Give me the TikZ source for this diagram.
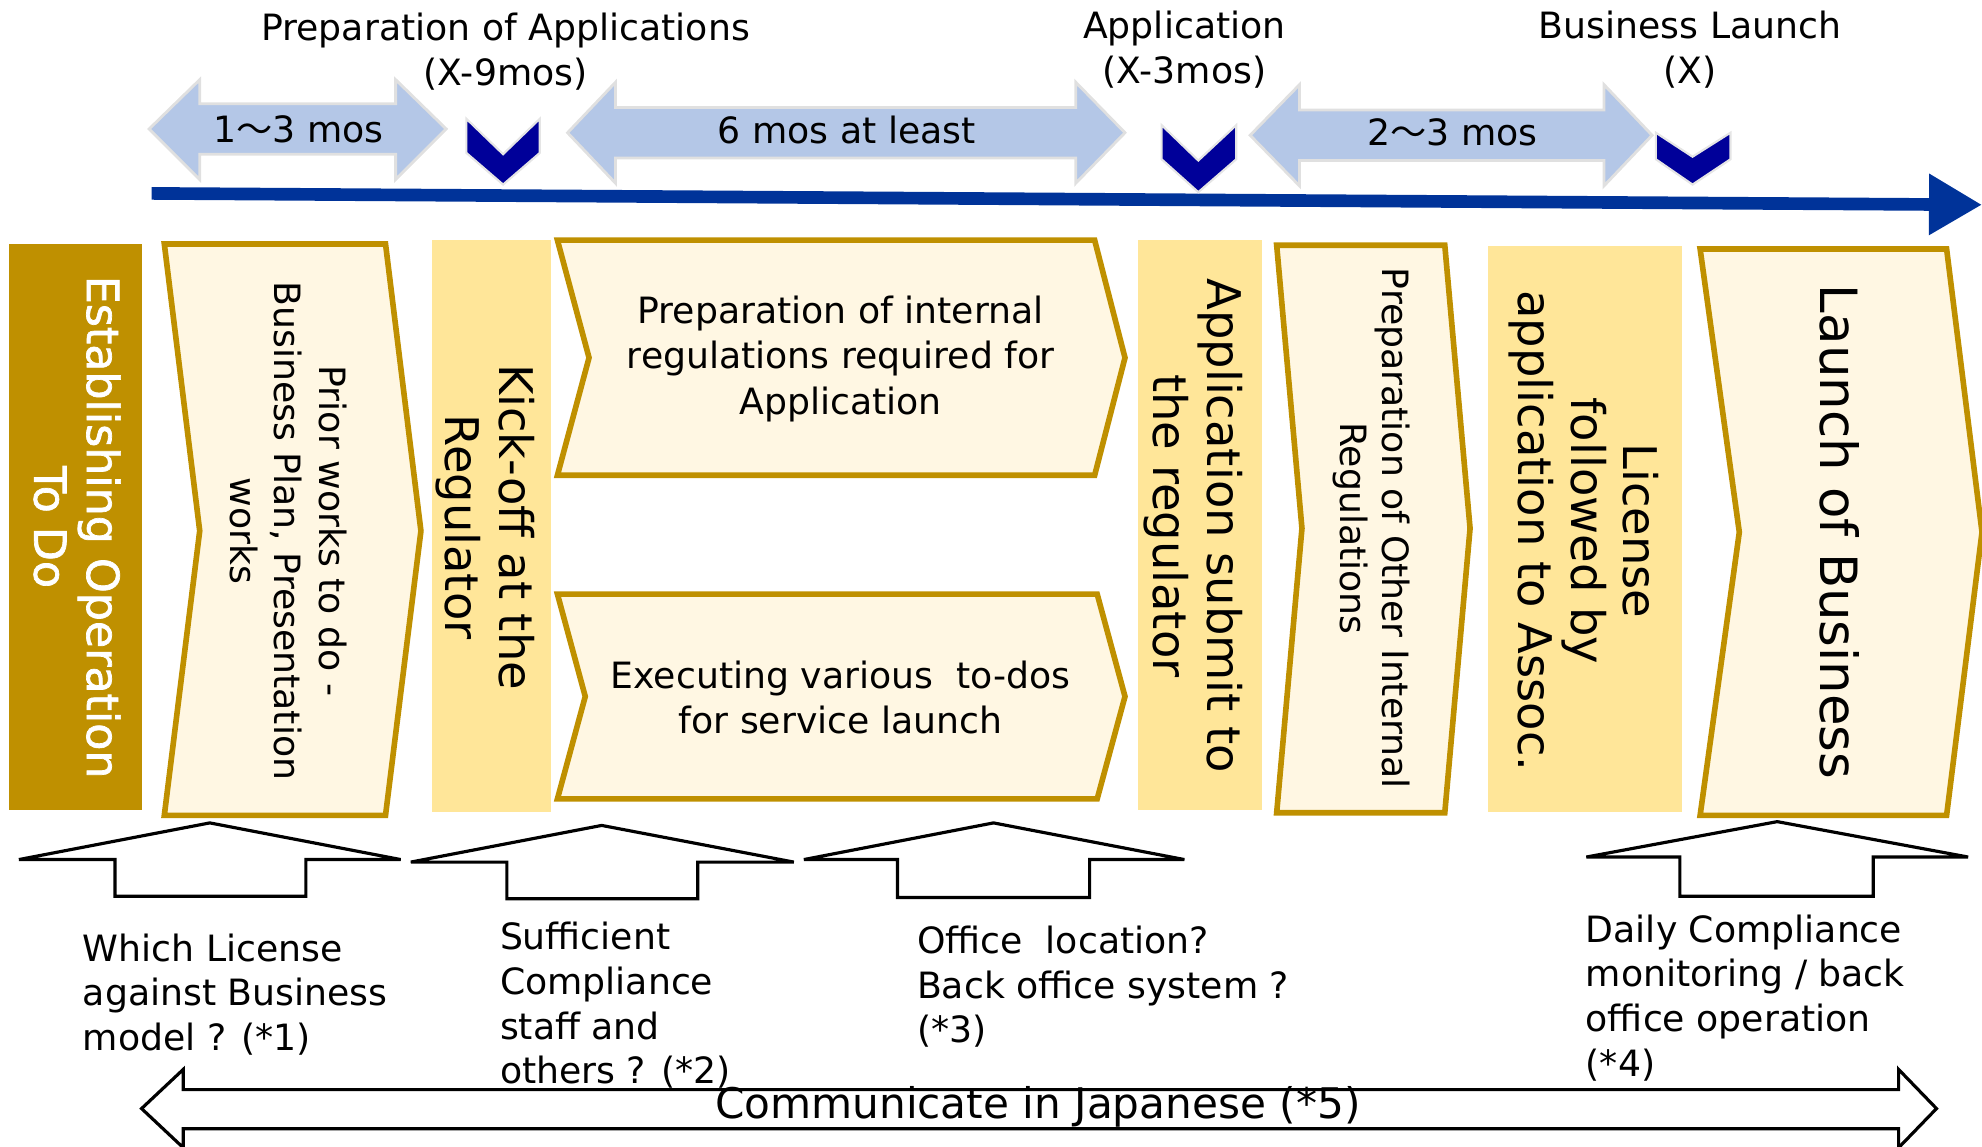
\documentclass[tikz,border=0pt]{standalone}
\usepackage{fontspec}
\setmainfont{DejaVu Sans}
\newfontfamily\cjk{Noto Sans CJK JP}
\newfontfamily\heavysans[FakeBold=1.6]{DejaVu Sans}
\usetikzlibrary{arrows.meta}
\definecolor{goldline}{RGB}{191,144,0}
\definecolor{cream}{RGB}{255,247,227}
\definecolor{paleyellow}{RGB}{255,230,153}
\definecolor{periodblue}{RGB}{180,199,231}
\definecolor{darknavy}{RGB}{0,0,153}
\definecolor{timeblue}{RGB}{0,51,153}
\tikzset{
  chevron/.style={draw=goldline,line width=1.6pt,fill=cream},
  bar/.style={fill=paleyellow},
  period/.style={fill=periodblue,draw=black!12,line width=0.8pt},
  milestone/.style={fill=darknavy,draw=black!10,line width=0.6pt},
  hollow/.style={draw=black,fill=white,line width=0.9pt},
  smalltxt/.style={font=\fontsize{10.3}{12.7}\selectfont,inner sep=0pt},
  bigtxt/.style={font=\fontsize{13.2}{15.4}\selectfont,inner sep=0pt},
  down/.style={rotate=-90,align=center}
}
\begin{document}
\begin{tikzpicture}
        [x=0.01264cm,y=-0.01264cm]
        \useasboundingbox (0,0) rectangle (1568,907);

        \node[smalltxt,align=center] (prep) at (400,41) {Preparation of Applications\\(X-9mos)};
        \node[smalltxt,align=center] (appl) at (937,39) {Application\\(X-3mos)};
        \node[smalltxt,align=center] (launch) at (1337,39) {Business Launch\\(X)};

        \draw[period] (118,102) -- (158,63) -- (158,82) -- (313,82) -- (313,63) -- (353,102) -- (313,142) -- (313,122) -- (158,122) -- (158,142) -- cycle;
        \draw[period] (449,105) -- (487,65) -- (487,85) -- (851,85) -- (851,65) -- (890,105) -- (851,145) -- (851,125) -- (487,125) -- (487,145) -- cycle;
        \draw[period] (989,107) -- (1028,67) -- (1028,87) -- (1269,87) -- (1269,67) -- (1307,107) -- (1269,147) -- (1269,127) -- (1028,127) -- (1028,147) -- cycle;
        \node[smalltxt] (p1) at (236,102) {1{\cjk ～}3 mos};
        \node[smalltxt] (p2) at (670,103) {6 mos at least};
        \node[smalltxt] (p3) at (1149,105) {2{\cjk ～}3 mos};

        \coordinate (t0) at (120,153);
        \coordinate (t1) at (1568,162);
        \draw[timeblue,line width=3.6pt,-{Triangle[length=0.53cm,width=0.58cm]}] (t0) -- (t1);

        \draw[milestone] (369,94) -- (398,122) -- (427,94) -- (427,121) -- (398,146) -- (369,121) -- cycle;
        \draw[milestone] (919,99) -- (948,127) -- (978,99) -- (978,126) -- (948,152) -- (919,126) -- cycle;
        \draw[milestone] (1310,105) -- (1339,124) -- (1369,105) -- (1369,126) -- (1339,146) -- (1310,126) -- cycle;

        \fill[goldline] (7,193) rectangle (112,641);
        \fill[bar] (342,190) rectangle (436,642);
        \fill[bar] (900,190) rectangle (998,641);
        \fill[bar] (1177,195) rectangle (1331,642);

        \draw[chevron] (130,193) -- (305,193) -- (333,420) -- (305,645) -- (130,645) -- (158,420) -- cycle;
        \draw[chevron] (441,190) -- (866,190) -- (890,283) -- (866,376) -- (441,376) -- (466,283) -- cycle;
        \draw[chevron] (441,470) -- (868,470) -- (890,551) -- (868,632) -- (441,632) -- (463,551) -- cycle;
        \draw[chevron] (1010,194) -- (1143,194) -- (1163,418) -- (1143,643) -- (1010,643) -- (1030,418) -- cycle;
        \draw[chevron] (1345,197) -- (1540,197) -- (1568,421) -- (1540,645) -- (1345,645) -- (1376,421) -- cycle;

        \node[down,inner sep=0pt,text=white,font=\heavysans\fontsize{12.6}{15}\selectfont] (todo) at (61,417) {Establishing Operation\\To Do};
        \node[down,smalltxt] (prior) at (228,420) {Prior works to do -\\Business Plan, Presentation\\works};
        \node[down,bigtxt] (kick) at (384,417) {Kick-off at the\\Regulator};
        \node[smalltxt,align=center,font=\fontsize{10.3}{12.9}\selectfont] (intreg) at (665,284) {Preparation of internal\\regulations required for\\Application};
        \node[smalltxt,align=center,font=\fontsize{10.3}{12.9}\selectfont] (todos) at (665,552) {Executing various\ \ to-dos\\for service launch};
        \node[down,bigtxt] (submit) at (944,416) {Application submit to\\the regulator};
        \node[down,smalltxt,font=\fontsize{10.3}{12.2}\selectfont] (other) at (1085,418) {Preparation of Other Internal\\Regulations};
        \node[down,bigtxt,font=\fontsize{13.2}{15}\selectfont] (license) at (1253,420) {License\\followed by\\application to Assoc.};
        \node[down,inner sep=0pt,font=\fontsize{14.6}{17}\selectfont] (start) at (1455,421) {Launch of Business};

        \draw[hollow] (166,651) -- (317,680) -- (242,680) -- (242,709) -- (91,709) -- (91,680) -- (15,680) -- cycle;
        \draw[hollow] (476,653) -- (628,682) -- (552,682) -- (552,711) -- (401,711) -- (401,682) -- (325,682) -- cycle;
        \draw[hollow] (786,651) -- (937,680) -- (862,680) -- (862,710) -- (710,710) -- (710,680) -- (636,680) -- cycle;
        \draw[hollow] (1406,650) -- (1557,678) -- (1482,678) -- (1482,709) -- (1329,709) -- (1329,678) -- (1255,678) -- cycle;

        \node[smalltxt,align=left,anchor=north west] (q1) at (65,738) {Which License\\against Business\\model ? (*1)};
        \node[smalltxt,align=left,anchor=north west] (q2) at (395,729) {Sufficient\\Compliance\\staff and\\others ? (*2)};
        \node[smalltxt,align=left,anchor=north west] (q3) at (725,732) {Office\ \ location?\\Back office system ?\\(*3)};
        \node[smalltxt,align=left,anchor=north west] (q4) at (1254,723) {Daily Compliance\\monitoring / back\\office operation\\(*4)};

        \draw[hollow] (112,877) -- (145,846) -- (145,862) -- (1502,862) -- (1502,846) -- (1532,877) -- (1502,908) -- (1502,893) -- (145,893) -- (145,908) -- cycle;
        \node[inner sep=0pt,font=\fontsize{12}{14}\selectfont] (jp) at (821,876) {Communicate in Japanese (*5)};
      \end{tikzpicture}
\end{document}
